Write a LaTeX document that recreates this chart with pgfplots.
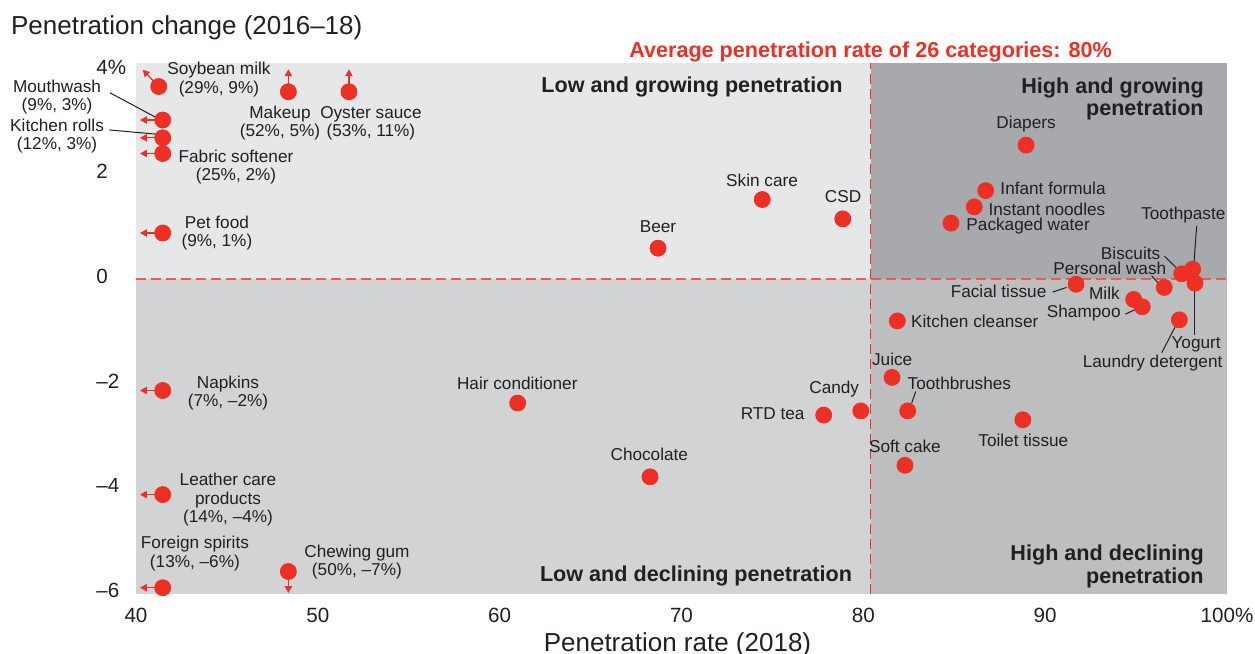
\documentclass[border=0pt]{standalone}
\usepackage{fontspec}
\setmainfont{Liberation Sans}
\usepackage{pgfplots}
\usepackage{pgfplotstable}
\pgfplotsset{compat=1.18}
\usetikzlibrary{arrows.meta}

\definecolor{dotred}{RGB}{237,47,36}
\definecolor{txt}{RGB}{35,31,32}
\definecolor{ulgrey}{RGB}{230,231,232}
\definecolor{llgrey}{RGB}{209,211,212}
\definecolor{urgrey}{RGB}{167,169,172}
\definecolor{lrgrey}{RGB}{188,190,192}

% penetration rate 2018 (x) and penetration change 2016-18 (y)
\pgfplotstableread{
x y name
41.25 3.65 SoybeanMilk
41.47 3.01 Mouthwash
41.47 2.67 KitchenRolls
41.47 2.37 FabricSoftener
41.47 0.85 PetFood
48.38 3.55 Makeup
51.71 3.55 OysterSauce
41.47 -2.16 Napkins
41.47 -4.15 LeatherCare
41.47 -5.93 ForeignSpirits
48.38 -5.62 ChewingGum
68.71 0.56 Beer
74.44 1.49 SkinCare
78.87 1.12 CSD
88.95 2.53 Diapers
86.73 1.66 InfantFormula
86.10 1.35 InstantNoodles
84.82 1.04 PackagedWater
97.51 0.07 Biscuits
98.11 0.16 Toothpaste
96.55 -0.19 PersonalWash
98.24 -0.11 Yogurt
91.70 -0.13 FacialTissue
94.87 -0.42 Milk
95.34 -0.56 Shampoo
97.38 -0.81 LaundryDetergent
81.87 -0.83 KitchenCleanser
81.58 -1.91 Juice
82.44 -2.55 Toothbrushes
88.77 -2.72 ToiletTissue
79.86 -2.55 Candy
77.82 -2.63 RTDtea
60.99 -2.40 HairConditioner
68.27 -3.81 Chocolate
82.29 -3.59 SoftCake
}\penetration

\begin{document}
\begin{tikzpicture}[
  lab/.style={font=\fontsize{8.6}{9.2}\selectfont, text=txt, inner sep=0pt, align=center},
  quad/.style={font=\fontsize{10.8}{11.1}\selectfont\bfseries, text=txt, inner sep=0pt},
  lead/.style={txt, line width=0.5pt},
  arr/.style={dotred, line width=0.6pt, -{Triangle[length=3.4pt,width=3.6pt]}},
]
\useasboundingbox (-68pt,-30pt) rectangle (559.5pt,297pt);

\node[anchor=base west, font=\fontsize{13}{15}\selectfont, text=txt, inner sep=0pt]
  at (-62.65pt,279.85pt) {Penetration change (2016–18)};
\node[anchor=base, font=\fontsize{13}{15}\selectfont, text=txt, inner sep=0pt]
  at (270.75pt,-28.65pt) {Penetration rate (2018)};

\begin{axis}[
  at={(0,0)}, anchor=south west,
  scale only axis, width=545.5pt, height=265.5pt,
  xmin=40, xmax=100, ymin=-6.05, ymax=4.1,
  axis line style={draw=none},
  major tick length=0pt,
  xtick={40,50,60,70,80,90,100},
  xticklabels={40,50,60,70,80,90,100\%},
  ytick={-6,-4,-2,0,2,4},
  yticklabels={–6,–4,–2,0,2,4\%},
  tick label style={font=\fontsize{10.3}{12}\selectfont, text=txt},
  xticklabel style={inner sep=0pt, anchor=north, yshift=-7.1pt},
  yticklabel style={inner sep=0pt, anchor=west, xshift=-20pt, yshift=0.6pt},
  clip=false,
]
% quadrant backgrounds
\fill[ulgrey] (axis cs:40,-0.03) rectangle (axis cs:80.4,4.1);
\fill[llgrey] (axis cs:40,-6.05) rectangle (axis cs:80.4,-0.03);
\fill[urgrey] (axis cs:80.4,-0.03) rectangle (axis cs:100,4.1);
\fill[lrgrey] (axis cs:80.4,-6.05) rectangle (axis cs:100,-0.03);

% averages
\draw[dotred!80, line width=0.7pt, dash pattern=on 5pt off 2.5pt] (axis cs:40,-0.03) -- (axis cs:100,-0.03);
\draw[dotred, line width=0.5pt, dash pattern=on 5pt off 2.5pt] (axis cs:80.4,-6.05) -- (axis cs:80.4,4.1);

% leader lines
\draw[lead] (axis cs:38.57,3.53) -- (axis cs:41.04,3.07);
\draw[lead] (axis cs:38.53,2.82) -- (axis cs:41.10,2.74);
\draw[lead] (axis cs:98.33,0.98) -- (axis cs:98.19,0.30);
\draw[lead] (axis cs:96.55,0.41) -- (axis cs:97.20,0.19);
\draw[lead] (axis cs:95.86,0.03) -- (axis cs:96.22,-0.11);
\draw[lead] (axis cs:90.41,-0.28) -- (axis cs:91.18,-0.19);
\draw[lead] (axis cs:94.41,-0.70) -- (axis cs:95.03,-0.60);
\draw[lead] (axis cs:98.24,-0.24) -- (axis cs:98.24,-1.10);
\draw[lead] (axis cs:96.41,-1.44) -- (axis cs:97.14,-0.95);
\draw[lead] (axis cs:82.88,-2.18) -- (axis cs:82.66,-2.40);

% off-scale values
\draw[arr] (axis cs:41.25,3.65) -- (axis cs:40.37,3.97);
\draw[arr] (axis cs:41.47,3.01) -- (axis cs:40.22,3.01);
\draw[arr] (axis cs:41.47,2.67) -- (axis cs:40.22,2.67);
\draw[arr] (axis cs:41.47,2.37) -- (axis cs:40.22,2.37);
\draw[arr] (axis cs:41.47,0.85) -- (axis cs:40.22,0.85);
\draw[arr] (axis cs:41.47,-2.16) -- (axis cs:40.22,-2.16);
\draw[arr] (axis cs:41.47,-4.15) -- (axis cs:40.22,-4.15);
\draw[arr] (axis cs:41.47,-5.93) -- (axis cs:40.22,-5.93);
\draw[arr] (axis cs:48.38,3.55) -- (axis cs:48.38,3.98);
\draw[arr] (axis cs:51.71,3.55) -- (axis cs:51.71,3.98);
\draw[arr] (axis cs:48.38,-5.62) -- (axis cs:48.38,-6.03);

\addplot[color=dotred, only marks, mark=*, mark size=4.0pt,
  mark options={solid, fill=dotred, draw=dotred, line width=0.4pt}]
  table[x=x, y=y] {\penetration};

% category labels
\node[lab] at (axis cs:44.56,3.78) {Soybean milk\\(29\%, 9\%)};
\node[lab] at (axis cs:35.66,3.45) {Mouthwash\\(9\%, 3\%)};
\node[lab] at (axis cs:35.66,2.70) {Kitchen rolls\\(12\%, 3\%)};
\node[lab] at (axis cs:45.50,2.11) {Fabric softener\\(25\%, 2\%)};
\node[lab] at (axis cs:44.45,0.85) {Pet food\\(9\%, 1\%)};
\node[lab] at (axis cs:47.92,2.95) {Makeup\\(52\%, 5\%)};
\node[lab] at (axis cs:52.92,2.95) {Oyster sauce\\(53\%, 11\%)};
\node[lab] at (axis cs:45.06,-2.21) {Napkins\\(7\%, –2\%)};
\node[lab] at (axis cs:45.06,-4.25) {Leather care\\products\\(14\%, –4\%)};
\node[lab] at (axis cs:43.24,-5.28) {Foreign spirits\\(13\%, –6\%)};
\node[lab] at (axis cs:52.15,-5.44) {Chewing gum\\(50\%, –7\%)};
\node[lab] at (axis cs:68.71,0.98) {Beer};
\node[lab] at (axis cs:74.43,1.86) {Skin care};
\node[lab] at (axis cs:78.89,1.54) {CSD};
\node[lab] at (axis cs:88.95,2.93) {Diapers};
\node[lab, anchor=west] at (axis cs:87.52,1.70) {Infant formula};
\node[lab, anchor=west] at (axis cs:86.87,1.30) {Instant noodles};
\node[lab, anchor=west] at (axis cs:85.65,0.98) {Packaged water};
\node[lab] at (axis cs:97.60,1.19) {Toothpaste};
\node[lab, anchor=east] at (axis cs:96.35,0.47) {Biscuits};
\node[lab, anchor=east] at (axis cs:96.68,0.18) {Personal wash};
\node[lab, anchor=east] at (axis cs:90.09,-0.26) {Facial tissue};
\node[lab, anchor=east] at (axis cs:94.12,-0.30) {Milk};
\node[lab, anchor=east] at (axis cs:94.17,-0.68) {Shampoo};
\node[lab, anchor=west] at (axis cs:82.61,-0.83) {Kitchen cleanser};
\node[lab] at (axis cs:98.30,-1.28) {Yogurt};
\node[lab] at (axis cs:95.91,-1.64) {Laundry detergent};
\node[lab, anchor=west] at (axis cs:80.46,-1.56) {Juice};
\node[lab, anchor=west] at (axis cs:82.42,-2.02) {Toothbrushes};
\node[lab] at (axis cs:88.80,-3.11) {Toilet tissue};
\node[lab] at (axis cs:78.40,-2.14) {Candy};
\node[lab, anchor=east] at (axis cs:76.79,-2.61) {RTD tea};
\node[lab] at (axis cs:60.97,-2.02) {Hair conditioner};
\node[lab] at (axis cs:68.23,-3.39) {Chocolate};
\node[lab] at (axis cs:82.29,-3.23) {Soft cake};

% quadrant titles
\node[quad, anchor=base] at (axis cs:70.58,3.54) {Low and growing penetration};
\node[quad, anchor=base] at (axis cs:70.80,-5.81) {Low and declining penetration};
\node[quad, anchor=north east, align=right] at (axis cs:98.74,3.82) {High and growing\\penetration};
\node[quad, anchor=north east, align=right] at (axis cs:98.74,-5.11) {High and declining\\penetration};
\node[quad, anchor=base, text=dotred] at (axis cs:80.4,4.21) {Average penetration rate of 26 categories: 80\%};
\end{axis}
\end{tikzpicture}
\end{document}
